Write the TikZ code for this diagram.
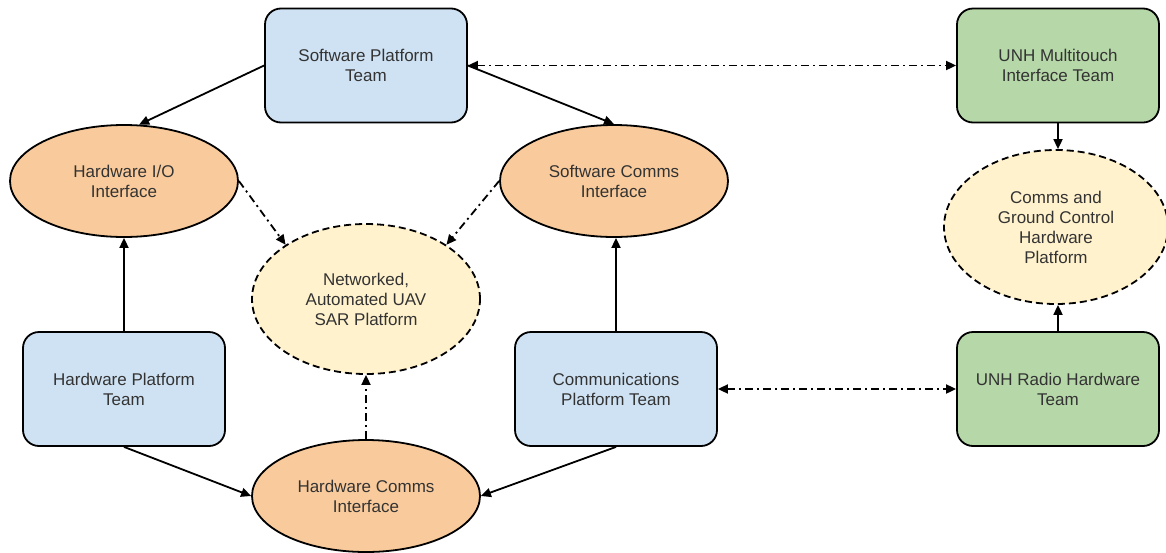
\documentclass[tikz,border=0pt]{standalone}
\usepackage{fontspec}
\setmainfont{Liberation Sans}
\usetikzlibrary{shapes.geometric,arrows.meta}
\definecolor{teamblue}{HTML}{CFE2F3}
\definecolor{teamgreen}{HTML}{B6D7A8}
\definecolor{ifaceorange}{HTML}{F9CB9C}
\definecolor{platyellow}{HTML}{FFF2CC}
\definecolor{labelgray}{HTML}{333333}
\tikzset{
  base/.style={draw=black, line width=1.8pt, inner sep=0pt, align=center,
    text=labelgray, font=\fontsize{17}{20}\selectfont},
  team/.style={base, rounded corners=16pt, minimum width=202pt, minimum height=114pt},
  blueteam/.style={team, fill=teamblue},
  greenteam/.style={team, fill=teamgreen},
  iface/.style={base, ellipse, fill=ifaceorange, minimum width=228pt, minimum height=112pt},
  platform/.style={base, ellipse, fill=platyellow, dash pattern=on 7pt off 4pt,
    minimum width=228pt, minimum height=150pt},
  link/.style={line width=1.8pt, -{Triangle[length=10pt,width=9pt]}},
  dotlink/.style={link, dash pattern=on 8pt off 4pt on 2pt off 4pt},
  bilink/.style={dotlink, {Triangle[length=10pt,width=9pt]}-{Triangle[length=10pt,width=9pt]}}
}
\begin{document}
\begin{tikzpicture}[x=1pt,y=-1pt]
\useasboundingbox (0,0) rectangle (1166,552);
% teams
\node[blueteam] (sp) at (366,65.5) {Software Platform\\Team};
\node[blueteam] (hp) at (124,389) {Hardware Platform\\Team};
\node[blueteam] (cp) at (616,389) {Communications\\Platform Team};
\node[greenteam] (um) at (1058,65.5) {UNH Multitouch\\Interface Team};
\node[greenteam] (ur) at (1058,389) {UNH Radio Hardware\\Team};
% interfaces
\node[iface] (hio) at (124,181) {Hardware I/O\\Interface};
\node[iface] (sc) at (614,181) {Software Comms\\Interface};
\node[iface] (hc) at (366,496) {Hardware Comms\\Interface};
% platforms
\node[platform] (net) at (366,299) {Networked,\\Automated UAV\\SAR Platform};
\node[platform, minimum width=224pt, minimum height=154pt] (cg) at (1056,227)
  {Comms and\\Ground Control\\Hardware\\Platform};
% solid dependencies
\draw[link] (sp.west) -- (hio.75);
\draw[link] (sp.east) -- (sc.north);
\draw[link] (hp.north) -- (hio.south);
\draw[link] (cp.north) -- (cp.north |- sc.south);
\draw[link] (hp.south) -- (hc.west);
\draw[link] (cp.south) -- (hc.east);
\draw[link] (um.south) -- (um.south |- cg.north);
\draw[link] (ur.north) -- (ur.north |- cg.south);
% dash-dot relations
\draw[dotlink] (hio.east) -- (net.146);
\draw[dotlink] (sc.west) -- (net.34);
\draw[dotlink] (hc.north) -- (net.south);
\draw[bilink] (sp.east) -- (um.west);
\draw[bilink] (cp.east) -- (ur.west);
\end{tikzpicture}
\end{document}
